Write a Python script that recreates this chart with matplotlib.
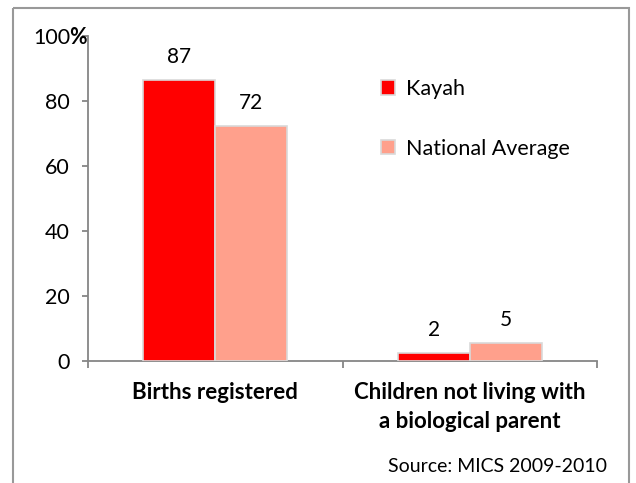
import matplotlib
matplotlib.use("Agg")
import matplotlib.pyplot as plt
from matplotlib.patches import Rectangle, Patch
import numpy as np

categories = ["Births registered", "Children not living with\na biological parent"]
series_names = ["Kayah", "National Average"]
kayah = [86.5, 2.5]
national = [72.3, 5.5]
kayah_labels = ["87", "2"]
national_labels = ["72", "5"]
y_ticks = [0, 20, 40, 60, 80, 100]
y_tick_labels = ["0", "20", "40", "60", "80", "100"]
source_text = "Source: MICS 2009-2010"

plt.rcParams['font.family'] = ['Lato', 'DejaVu Sans']

W, H = 636, 483
fig = plt.figure(figsize=(W / 100, H / 100), dpi=100)

# outer border
fig.patches.append(Rectangle((13 / W, 1 - 8 / H), (629 - 13) / W, -(500 - 8) / H,
                             transform=fig.transFigure, fill=False,
                             edgecolor='#999999', linewidth=1.5, zorder=0))

ax = fig.add_axes([88 / W, (H - 361) / H, (597 - 88) / W, (361 - 36) / H])

red = '#FF0000'
salmon = '#FFA08C'
edge = '#D9D9D9'
bw = 0.283
x = np.arange(len(categories))

b1 = ax.bar(x - bw / 2, kayah, width=bw, color=red, edgecolor=edge, linewidth=1.2, zorder=3)
b2 = ax.bar(x + bw / 2, national, width=bw, color=salmon, edgecolor=edge, linewidth=1.2, zorder=3)

for rect, lab in zip(b1, kayah_labels):
    ax.annotate(lab, (rect.get_x() + rect.get_width() / 2, rect.get_height()),
                xytext=(0, 16.5), textcoords='offset points', ha='center', va='center',
                fontsize=15)
for rect, lab in zip(b2, national_labels):
    ax.annotate(lab, (rect.get_x() + rect.get_width() / 2, rect.get_height()),
                xytext=(0, 16.5), textcoords='offset points', ha='center', va='center',
                fontsize=15)

ax.set_xlim(-0.5, len(categories) - 0.5)
ax.set_ylim(0, 100)

for s in ['top', 'right']:
    ax.spines[s].set_visible(False)
for s in ['left', 'bottom']:
    ax.spines[s].set_color('#868686')
    ax.spines[s].set_linewidth(1.3)

ax.set_yticks(y_ticks)
ax.set_yticklabels(y_tick_labels)
ax.tick_params(axis='y', direction='out', length=4, width=1.3, color='#868686',
               labelsize=15.5, pad=9)

ax.set_xticks(np.arange(len(categories) + 1) - 0.5)
ax.set_xticklabels([])
ax.tick_params(axis='x', which='major', direction='out', length=5, width=1.3, color='#868686')
ax.set_xticks(x, minor=True)
ax.set_xticklabels(categories, minor=True, fontsize=16, fontweight='bold', linespacing=1.5)
ax.tick_params(axis='x', which='minor', length=0, pad=15)

# bold % after 100
fig.text(69 / W, 1 - 37 / H, "%", fontsize=15.5, fontweight='bold', ha='left', va='center')

handles = [Patch(facecolor=red, edgecolor=edge, linewidth=1.2),
           Patch(facecolor=salmon, edgecolor=edge, linewidth=1.2)]
fig.legend(handles, series_names, loc='upper left', bbox_to_anchor=(381 / W, 1 - 79 / H),
           frameon=False, fontsize=15.5, handlelength=0.65, handleheight=0.65,
           handletextpad=0.5, labelspacing=1.85, borderpad=0, borderaxespad=0)

fig.text(607 / W, 1 - 466 / H, source_text, fontsize=14, ha='right', va='center')

fig.savefig("out.png", dpi=100)
